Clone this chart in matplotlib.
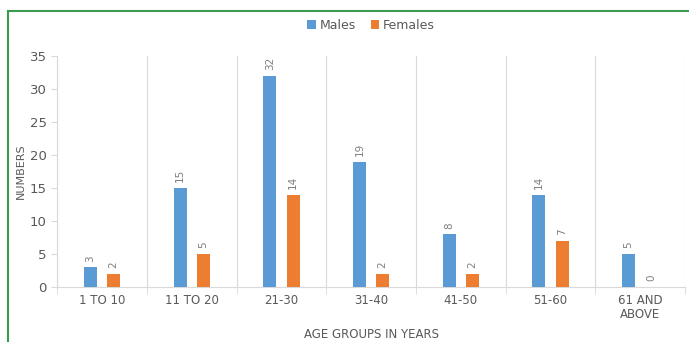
import numpy as np
import matplotlib.pyplot as plt
from matplotlib.lines import Line2D

groups = ["1 TO 10", "11 TO 20", "21-30", "31-40", "41-50", "51-60", "61 AND\nABOVE"]
males = [3, 15, 32, 19, 8, 14, 5]
females = [2, 5, 14, 2, 2, 7, 0]

blue = "#5B9BD5"
orange = "#ED7D31"
grey = "#595959"
light = "#D9D9D9"

fig = plt.figure(figsize=(6.89, 3.42), dpi=100)
ax = fig.add_axes([0.083, 0.161, 0.911, 0.675])

x = np.arange(len(groups))
w = 0.145
b1 = ax.bar(x - 0.13, males, w, color=blue, label="Males", zorder=3)
b2 = ax.bar(x + 0.13, females, w, color=orange, label="Females", zorder=3)
ax.bar_label(b1, rotation=90, padding=4, fontsize=7.5, color="#7F7F7F")
ax.bar_label(b2, rotation=90, padding=4, fontsize=7.5, color="#7F7F7F")

ax.set_xlim(-0.5, len(groups) - 0.5)
ax.set_ylim(0, 35)
ax.set_yticks(range(0, 36, 5))
ax.set_xticks(x)
ax.set_xticklabels(groups, fontsize=8.5, color=grey, linespacing=1.1)
ax.set_xticks(np.arange(-0.5, len(groups)), minor=True)
ax.tick_params(axis="x", which="major", length=0, pad=5)
ax.tick_params(axis="x", which="minor", length=5, color=light)
ax.tick_params(axis="y", length=4, color=light, labelsize=9.5, labelcolor=grey)
ax.grid(axis="x", which="minor", color=light, linewidth=0.8, zorder=0)

for s in ["top", "right"]:
    ax.spines[s].set_visible(False)
for s in ["left", "bottom"]:
    ax.spines[s].set_color(light)

ax.set_ylabel("NUMBERS", fontsize=8, color=grey, labelpad=3)
ax.set_xlabel("AGE GROUPS IN YEARS", fontsize=8.5, color=grey, labelpad=5)

ax.legend(loc="lower center", bbox_to_anchor=(0.5, 1.055), ncol=2, frameon=False,
          fontsize=9, handlelength=0.7, handleheight=0.7, handletextpad=0.3,
          columnspacing=1.2, labelcolor=grey)

# green frame around the chart
fig.add_artist(Line2D([8 / 689, 8 / 689], [0, 1 - 11 / 342], color="#3C9A4E", lw=1.5))
fig.add_artist(Line2D([8 / 689, 1], [1 - 11 / 342, 1 - 11 / 342], color="#3C9A4E", lw=1.5))

fig.savefig("out.png", dpi=100)
